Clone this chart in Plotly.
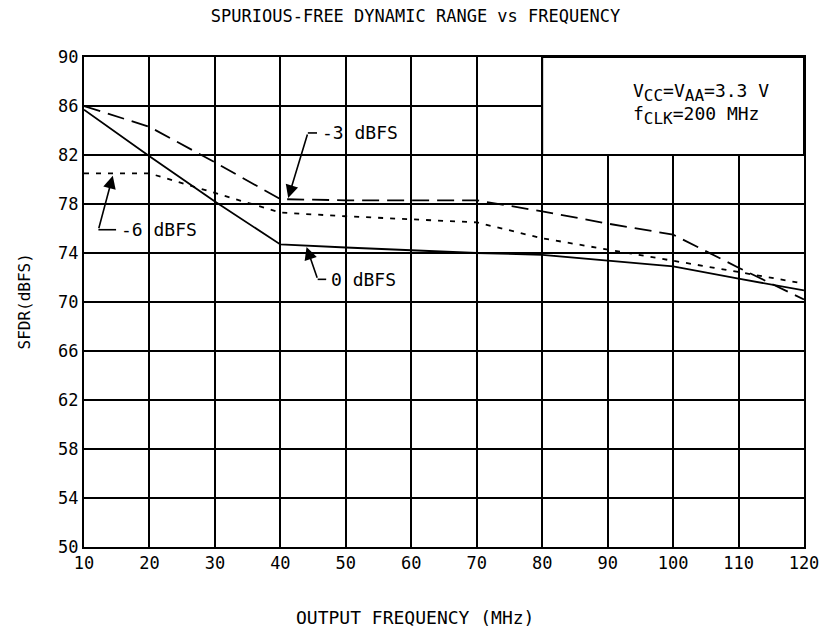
import plotly.graph_objects as go

# ---- data ----
freq_mhz = [10, 20, 30, 40, 50, 60, 70, 80, 90, 100, 110, 120]
sfdr_0dbfs = [85.7, 81.9, 78.2, 74.7, 74.45, 74.2, 74.0, 73.85, 73.35, 72.9, 71.9, 70.95]
sfdr_m3dbfs = [86.0, 84.3, 81.4, 78.4, 78.3, 78.3, 78.3, 77.4, 76.4, 75.5, 72.8, 70.2]
sfdr_m6dbfs = [80.5, 80.5, 78.9, 77.3, 77.0, 76.75, 76.5, 75.2, 74.3, 73.4, 72.45, 71.5]

x_ticks = [10, 20, 30, 40, 50, 60, 70, 80, 90, 100, 110, 120]
y_ticks = [50, 54, 58, 62, 66, 70, 74, 78, 82, 86, 90]

FONT = "DejaVu Sans Mono"

fig = go.Figure()
fig.add_trace(go.Scatter(x=freq_mhz, y=sfdr_0dbfs, mode="lines", name="0 dBFS",
                         line=dict(color="black", width=1.8)))
fig.add_trace(go.Scatter(x=freq_mhz, y=sfdr_m3dbfs, mode="lines", name="-3 dBFS",
                         line=dict(color="black", width=1.8, dash="17px,8px")))
fig.add_trace(go.Scatter(x=freq_mhz, y=sfdr_m6dbfs, mode="lines", name="-6 dBFS",
                         line=dict(color="black", width=1.8, dash="5px,7px")))

axis_common = dict(showgrid=True, gridcolor="black", gridwidth=2,
                   showline=True, linecolor="black", linewidth=2, mirror=True,
                   zeroline=False, ticks="", tickfont=dict(family=FONT, size=17, color="black"))

fig.update_xaxes(range=[10, 120], tickvals=x_ticks, **axis_common)
fig.update_yaxes(range=[50, 90], tickvals=y_ticks, **axis_common)

# condition box (covers grid in upper-right)
fig.add_shape(type="rect", xref="x", yref="y", x0=80, x1=120, y0=82, y1=90,
              fillcolor="white", line=dict(color="black", width=2), layer="above")

def sub(s):
    return '<sub><span style="font-size:16px">' + s + '</span></sub>'

annotations = [
    dict(text="V" + sub("CC") + "=V" + sub("AA") + "=3.3 V<br>f" + sub("CLK") + "=200 MHz",
         xref="x", yref="y", x=93.5, y=86.2, xanchor="left", yanchor="middle",
         showarrow=False, align="left", font=dict(family=FONT, size=18, color="black")),
    dict(text="OUTPUT FREQUENCY (MHz)", xref="paper", yref="paper", x=0.46, y=-0.118,
         yanchor="top", showarrow=False, font=dict(family=FONT, size=18, color="black")),
    dict(text="SFDR(dBFS)", xref="paper", yref="paper", x=-0.1, y=0.5, textangle=-90,
         showarrow=False, font=dict(family=FONT, size=16, color="black")),
]

# curve labels with leader arrows: (text, tip, elbow, text start)
leaders = [
    ("-3 dBFS", (41.2, 78.5), (44.2, 83.8), (45.6, 83.8)),
    ("-6 dBFS", (14.4, 80.3), (12.2, 75.9), (14.9, 75.9)),
    ("0 dBFS", (44.0, 74.5), (45.7, 71.85), (47.0, 71.85)),
]
for label, tip, elbow, tstart in leaders:
    annotations.append(dict(text="", x=tip[0], y=tip[1], ax=elbow[0], ay=elbow[1],
                            xref="x", yref="y", axref="x", ayref="y", showarrow=True,
                            arrowhead=2, arrowsize=1.6, arrowwidth=1.6, arrowcolor="black"))
    fig.add_shape(type="line", xref="x", yref="y", x0=elbow[0], y0=elbow[1],
                  x1=tstart[0], y1=tstart[1], line=dict(color="black", width=1.6))
    annotations.append(dict(text=label, x=tstart[0] + 0.4, y=tstart[1], xref="x", yref="y",
                            xanchor="left", yanchor="middle", showarrow=False,
                            font=dict(family=FONT, size=18, color="black")))

fig.update_layout(
    width=831, height=628,
    margin=dict(l=84, r=21, t=57, b=81),
    paper_bgcolor="white", plot_bgcolor="white",
    showlegend=False,
    title=dict(text="SPURIOUS-FREE DYNAMIC RANGE vs FREQUENCY", x=0.5, xanchor="center",
               y=0.975, yanchor="middle",
               font=dict(family=FONT, size=17, color="black")),
    annotations=annotations,
)

fig.write_html("out.html")
